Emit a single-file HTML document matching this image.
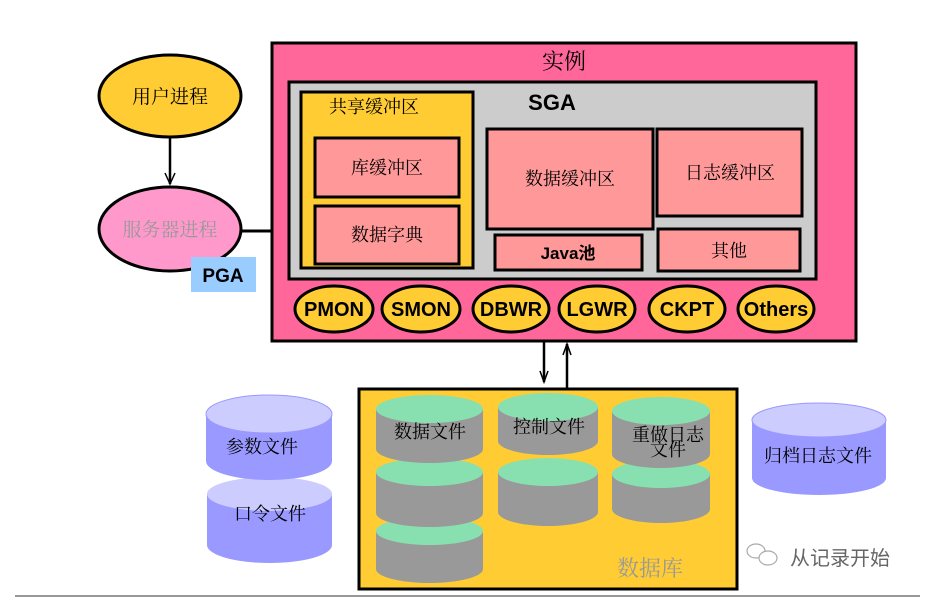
<!DOCTYPE html>
<html><head><meta charset="utf-8"><style>
html,body{margin:0;padding:0;background:#fff;}
svg{display:block;}
.s{font-family:"Noto Serif CJK SC","Liberation Serif",serif;}
.b{font-family:"Liberation Sans","Noto Sans CJK SC",sans-serif;font-weight:bold;}
</style></head><body>
<svg width="934" height="598" viewBox="0 0 934 598" xmlns="http://www.w3.org/2000/svg">
<!-- user/server process -->
<ellipse cx="170" cy="96" rx="71" ry="41" fill="#ffcc33" stroke="#000" stroke-width="3"/>
<text x="170" y="103" class="s" font-size="19" text-anchor="middle">用户进程</text>
<line x1="170" y1="138" x2="170" y2="184" stroke="#000" stroke-width="2.5"/>
<path d="M165,173 L170,184 L175,173" fill="none" stroke="#000" stroke-width="1.5"/>
<line x1="240" y1="231" x2="272" y2="231" stroke="#000" stroke-width="3"/>
<ellipse cx="170" cy="229" rx="71" ry="42" fill="#ff99cc" stroke="#000" stroke-width="3"/>
<text x="170" y="236" class="s" font-size="19" fill="#999" text-anchor="middle">服务器进程</text>
<rect x="191" y="257" width="65" height="35" fill="#99ccff"/>
<text x="223" y="282" class="b" font-size="19" text-anchor="middle">PGA</text>
<!-- instance -->
<rect x="272" y="43" width="584" height="298" fill="#ff6699" stroke="#000" stroke-width="3"/>
<text x="564" y="69" class="s" font-size="22" text-anchor="middle">实例</text>
<rect x="289" y="82" width="527" height="197" fill="#cccccc" stroke="#000" stroke-width="3"/>
<text x="552" y="110" class="b" font-size="22" text-anchor="middle">SGA</text>
<rect x="301" y="92" width="172" height="176" fill="#ffcc33" stroke="#000" stroke-width="3"/>
<text x="374" y="113" class="s" font-size="18" text-anchor="middle">共享缓冲区</text>
<rect x="315" y="138" width="144" height="59" fill="#ff9999" stroke="#000" stroke-width="3"/>
<text x="387" y="174" class="s" font-size="18" text-anchor="middle">库缓冲区</text>
<rect x="315" y="206" width="144" height="58" fill="#ff9999" stroke="#000" stroke-width="3"/>
<text x="387" y="241" class="s" font-size="18" text-anchor="middle">数据字典</text>
<rect x="487" y="129" width="166" height="100" fill="#ff9999" stroke="#000" stroke-width="3"/>
<text x="570" y="185" class="s" font-size="18" text-anchor="middle">数据缓冲区</text>
<rect x="657" y="129" width="145" height="87" fill="#ff9999" stroke="#000" stroke-width="3"/>
<text x="730" y="179" class="s" font-size="18" text-anchor="middle">日志缓冲区</text>
<rect x="495" y="235" width="147" height="35" fill="#ff9999" stroke="#000" stroke-width="3"/>
<text x="568" y="259" class="b" font-size="17" text-anchor="middle">Java池</text>
<rect x="658" y="229" width="142" height="42" fill="#ff9999" stroke="#000" stroke-width="3"/>
<text x="729" y="257" class="s" font-size="18" text-anchor="middle">其他</text>
<g fill="#ffcc33" stroke="#000" stroke-width="3">
<ellipse cx="334" cy="309" rx="39" ry="23"/>
<ellipse cx="421" cy="309" rx="39" ry="23"/>
<ellipse cx="511" cy="309" rx="38" ry="23"/>
<ellipse cx="597" cy="309" rx="38" ry="23"/>
<ellipse cx="687" cy="309" rx="38" ry="23"/>
<ellipse cx="776" cy="309" rx="38" ry="23"/>
</g>
<g class="b" font-size="20" text-anchor="middle">
<text x="334" y="316">PMON</text><text x="421" y="316">SMON</text><text x="511" y="316">DBWR</text>
<text x="597" y="316">LGWR</text><text x="687" y="316">CKPT</text><text x="776" y="316">Others</text>
</g>
<!-- arrows -->
<line x1="544" y1="342" x2="544" y2="382" stroke="#000" stroke-width="2.5"/>
<path d="M540,371 L544,382 L548,371" fill="none" stroke="#000" stroke-width="1.5"/>
<line x1="567" y1="388" x2="567" y2="344" stroke="#000" stroke-width="2.5"/>
<path d="M563,355 L567,344 L571,355" fill="none" stroke="#000" stroke-width="1.5"/>
<!-- database -->
<rect x="359" y="389" width="378" height="200" fill="#ffcc33" stroke="#000" stroke-width="3"/>
<text x="650" y="576" class="s" font-size="22" fill="#999" text-anchor="middle">数据库</text>
<g>
<rect x="376" y="531" width="107" height="38" fill="#999"/><ellipse cx="429.5" cy="569" rx="53.5" ry="14" fill="#999"/><ellipse cx="429.5" cy="531" rx="53.5" ry="14" fill="#88e0b0"/>
<rect x="376" y="472" width="107" height="41" fill="#999"/><ellipse cx="429.5" cy="513" rx="53.5" ry="14" fill="#999"/><ellipse cx="429.5" cy="472" rx="53.5" ry="14" fill="#88e0b0"/>
<rect x="376" y="409" width="107" height="40" fill="#999"/><ellipse cx="429.5" cy="449" rx="53.5" ry="14" fill="#999"/><ellipse cx="429.5" cy="409" rx="53.5" ry="14" fill="#88e0b0"/>
<rect x="498" y="472" width="100" height="40" fill="#999"/><ellipse cx="548" cy="512" rx="50" ry="14" fill="#999"/><ellipse cx="548" cy="472" rx="50" ry="14" fill="#88e0b0"/>
<rect x="498" y="407" width="100" height="34" fill="#999"/><ellipse cx="548" cy="441" rx="50" ry="14" fill="#999"/><ellipse cx="548" cy="407" rx="50" ry="14" fill="#88e0b0"/>
<rect x="612" y="474" width="98" height="35" fill="#999"/><ellipse cx="661" cy="509" rx="49" ry="14" fill="#999"/><ellipse cx="661" cy="474" rx="49" ry="14" fill="#88e0b0"/>
<rect x="612" y="411" width="98" height="43" fill="#999"/><ellipse cx="661" cy="454" rx="49" ry="14" fill="#999"/><ellipse cx="661" cy="411" rx="49" ry="14" fill="#88e0b0"/>
</g>
<g class="s" font-size="18" text-anchor="middle">
<text x="430" y="438">数据文件</text>
<text x="549" y="433">控制文件</text>
<text x="668" y="441">重做日志</text>
<text x="668" y="456">文件</text>
</g>
<!-- left cylinders -->
<rect x="207" y="494" width="125" height="51" fill="#9999ff"/><ellipse cx="269.5" cy="545" rx="62.5" ry="18" fill="#9999ff"/><ellipse cx="269.5" cy="494" rx="62.5" ry="17" fill="#ccccff"/>
<rect x="206" y="414" width="126" height="47" fill="#9999ff"/><ellipse cx="269" cy="461" rx="63" ry="19" fill="#9999ff"/><ellipse cx="269" cy="414" rx="63" ry="19" fill="#ccccff" stroke="#9999ff"/>
<text x="262" y="453" class="s" font-size="18" text-anchor="middle">参数文件</text>
<text x="270" y="520" class="s" font-size="18" text-anchor="middle">口令文件</text>
<!-- right cylinder -->
<rect x="752" y="420" width="134" height="58" fill="#9999ff"/><ellipse cx="819" cy="478" rx="67" ry="17" fill="#9999ff"/><ellipse cx="819" cy="420" rx="67" ry="17" fill="#ccccff" stroke="#9999ff"/>
<text x="818" y="462" class="s" font-size="18" text-anchor="middle">归档日志文件</text>
<!-- watermark -->
<g fill="none" stroke="#aaa" stroke-width="1.2">
<ellipse cx="756" cy="551" rx="9" ry="7"/><ellipse cx="768" cy="558" rx="9" ry="7" fill="#fff"/>
</g>
<text x="790" y="565" font-family="Liberation Sans,Noto Sans CJK SC,sans-serif" font-size="20" fill="#666">从记录开始</text>
<line x1="15" y1="596" x2="920" y2="596" stroke="#999" stroke-width="2"/>
</svg>
</body></html>
